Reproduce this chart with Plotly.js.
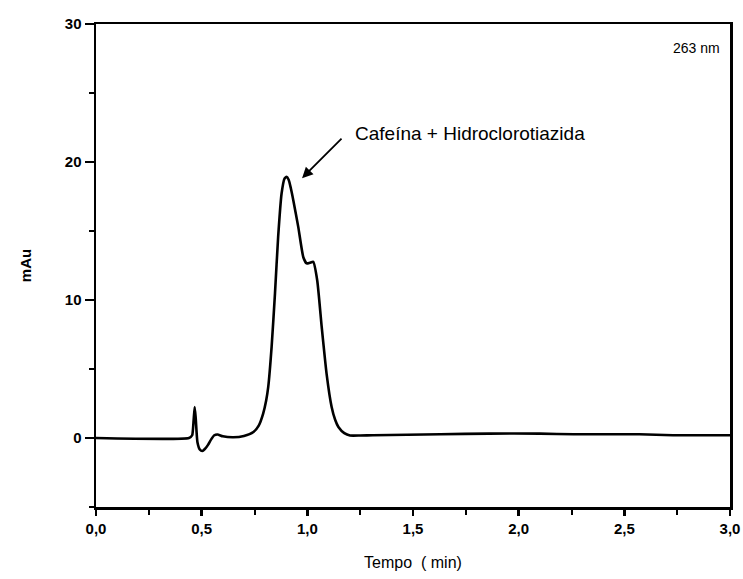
<!DOCTYPE html>
<html>
<head>
<meta charset="utf-8">
<script src="https://cdn.plot.ly/plotly-3.0.1.min.js"></script>
<style>html,body{margin:0;padding:0;background:#fff;}#chart{width:743px;height:579px;}</style>
</head>
<body>
<div id="chart"></div>
<script>
// Chromatogram at 263 nm
const tempo = [0, 0.44, 0.455, 0.462, 0.467, 0.472, 0.48, 0.492, 0.503, 0.515, 0.53, 0.545, 0.56, 0.575, 0.6, 0.65, 0.70, 0.745, 0.77, 0.791, 0.805, 0.815, 0.831, 0.847, 0.862, 0.878, 0.892, 0.902, 0.912, 0.922, 0.934, 0.957, 0.981, 0.997, 1.012, 1.028, 1.047, 1.068, 1.091, 1.115, 1.132, 1.147, 1.175, 1.202, 1.25, 1.31, 1.63, 1.86, 2.1, 2.26, 2.57, 2.73, 3.0];
const mAu = [0, 0, 0.2, 1.3, 2.25, 1.4, -0.3, -0.85, -0.94, -0.8, -0.5, -0.1, 0.2, 0.25, 0.12, 0.05, 0.15, 0.44, 0.9, 1.77, 2.7, 3.7, 6.6, 10.5, 14.6, 17.7, 18.8, 18.93, 18.7, 18.1, 17.2, 15.3, 13.1, 12.65, 12.7, 12.76, 11.4, 8.05, 4.67, 2.25, 1.3, 0.8, 0.35, 0.18, 0.18, 0.2, 0.27, 0.32, 0.32, 0.27, 0.27, 0.2, 0.2];
const xTicks = [0, 0.5, 1.0, 1.5, 2.0, 2.5, 3.0];
const yTicks = [0, 10, 20, 30];
const peakLabel = 'Cafeína + Hidroclorotiazida';
const peakArrow = {x: 0.975, y: 18.83, tailX: 1.169, tailY: 21.8};
const wavelengthLabel = '263 nm';

const FAM = 'Liberation Sans';

Plotly.newPlot('chart', [{
  x: tempo, y: mAu, type: 'scatter', mode: 'lines',
  line: {color: '#000', width: 2.6, shape: 'spline', smoothing: 0.5},
  hoverinfo: 'skip'
}], {
  width: 743, height: 579,
  margin: {l: 96, r: 13, t: 24, b: 72},
  paper_bgcolor: '#fff', plot_bgcolor: '#fff',
  separators: ',.',
  showlegend: false,
  font: {family: FAM, color: '#000'},
  xaxis: {
    range: [0, 3], tickvals: xTicks, tickformat: '.1f',
    ticks: 'outside', ticklen: 6, tickwidth: 2.5, tickcolor: '#000',
    minor: {dtick: 0.25, tick0: 0, ticks: 'outside', ticklen: 5, tickwidth: 2, tickcolor: '#000'},
    showline: true, linewidth: 2.5, linecolor: '#000', mirror: true,
    showgrid: false, zeroline: false,
    tickfont: {family: FAM, size: 15, color: '#000', weight: 'bold'},
    title: {text: 'Tempo  ( min)', standoff: 22, font: {family: FAM, size: 16, color: '#000'}}
  },
  yaxis: {
    range: [-5, 30], tickvals: yTicks,
    ticks: 'outside', ticklen: 9, tickwidth: 2.5, tickcolor: '#000',
    minor: {dtick: 5, tick0: -5, ticks: 'outside', ticklen: 5, tickwidth: 2, tickcolor: '#000'},
    showline: true, linewidth: 2.5, linecolor: '#000', mirror: true,
    showgrid: false, zeroline: false,
    tickfont: {family: FAM, size: 15, color: '#000', weight: 'bold'},
    title: {text: 'mAu', standoff: 30, font: {family: FAM, size: 15, color: '#000', weight: 'bold'}}
  },
  annotations: [
    {x: peakArrow.x, y: peakArrow.y, ax: peakArrow.tailX, ay: peakArrow.tailY, axref: 'x', ayref: 'y', xref: 'x', yref: 'y',
     text: '', showarrow: true, arrowhead: 2, arrowsize: 1.2, arrowwidth: 1.8, arrowcolor: '#000'},
    {x: 1.215, y: 22.1, xref: 'x', yref: 'y', xanchor: 'left', yanchor: 'middle', showarrow: false,
     text: peakLabel, font: {family: FAM, size: 19, color: '#000'}},
    {x: 2.96, y: 28.25, xref: 'x', yref: 'y', xanchor: 'right', yanchor: 'middle', showarrow: false,
     text: wavelengthLabel, font: {family: FAM, size: 14, color: '#000'}}
  ]
}, {staticPlot: true});
</script>
</body>
</html>
